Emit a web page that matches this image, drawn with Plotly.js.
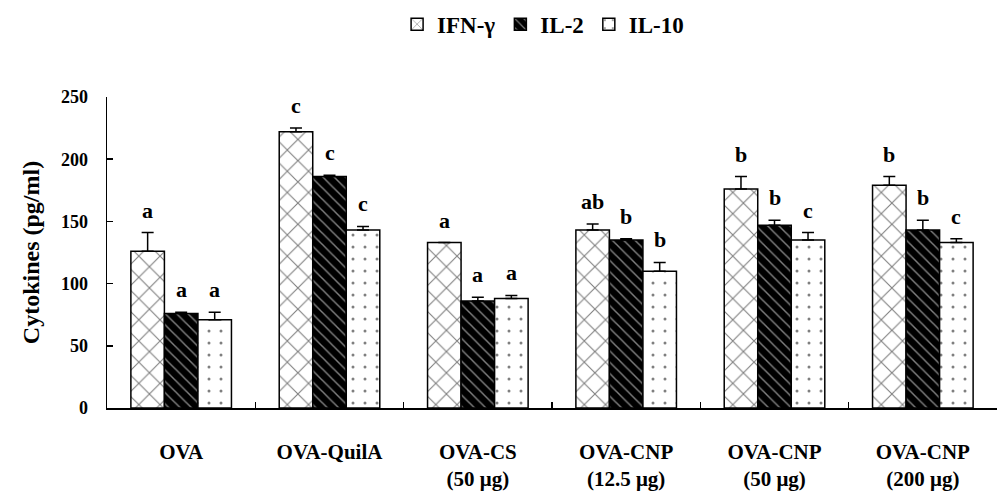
<!DOCTYPE html>
<html>
<head>
<meta charset="utf-8">
<script src="https://cdn.plot.ly/plotly-3.0.1.min.js"></script>
<style>
  html, body { margin: 0; padding: 0; background: #fff; }
  #plot { width: 1000px; height: 499px; }
</style>
</head>
<body>
<div id="plot"></div>
<script>
// Groups on the x axis
let groups = ["OVA", "OVA-QuilA", "OVA-CS<br>(50 μg)", "OVA-CNP<br>(12.5 μg)", "OVA-CNP<br>(50 μg)", "OVA-CNP<br>(200 μg)"];

// Cytokine means (pg/ml)
let ifnVals = [126, 222, 133, 143, 176, 179];
let il2Vals = [76, 186, 86, 135, 147, 143];
let il10Vals = [71, 143, 88, 110, 135, 133];

// Upper error bars
let ifnErr = [15, 3, 0, 5, 10, 7];
let il2Err = [1, 1, 3, 1, 4, 8];
let il10Err = [6, 3, 2.5, 7, 6, 3];

// Significance letters
let ifnLetters = ["a", "c", "a", "ab", "b", "b"];
let il2Letters = ["a", "c", "a", "b", "b", "b"];
let il10Letters = ["a", "c", "a", "b", "c", "c"];

let serif = "Liberation Serif, Times New Roman, serif";

function errBar(arr) {
    return {
        type: "data",
        array: arr,
        arrayminus: arr.map(() => 0),
        symmetric: false,
        color: "black",
        thickness: 1.5,
        width: 6
    };
}

let trace1 = {
    x: groups,
    y: ifnVals,
    name: "IFN-γ",
    type: "bar",
    error_y: errBar(ifnErr),
    marker: {
        color: "white",
        line: { color: "black", width: 1.5 },
        pattern: { shape: "x", fgcolor: "black", size: 15, solidity: 0.14, fillmode: "overlay" }
    }
};

let trace2 = {
    x: groups,
    y: il2Vals,
    name: "IL-2",
    type: "bar",
    error_y: errBar(il2Err),
    marker: {
        color: "black",
        line: { color: "black", width: 1.5 },
        pattern: { shape: "\\", fgcolor: "white", size: 8, solidity: 0.18, fillmode: "overlay" }
    }
};

let trace3 = {
    x: groups,
    y: il10Vals,
    name: "IL-10",
    type: "bar",
    error_y: errBar(il10Err),
    marker: {
        color: "white",
        line: { color: "black", width: 1.5 },
        pattern: { shape: ".", fgcolor: "black", size: 12, solidity: 0.05, fillmode: "overlay" }
    }
};

// Letters above each bar
let annotations = [];
let sets = [[ifnVals, ifnErr, ifnLetters, -0.226], [il2Vals, il2Err, il2Letters, 0], [il10Vals, il10Err, il10Letters, 0.226]];
sets.forEach(function (s) {
    for (let i = 0; i < groups.length; i++) {
        annotations.push({
            x: i + s[3],
            y: s[0][i] + s[1][i],
            xref: "x",
            yref: "y",
            text: s[2][i],
            showarrow: false,
            yanchor: "bottom",
            yshift: 8,
            font: { family: serif, size: 22, color: "black", weight: "bold" }
        });
    }
});

let layout = {
    width: 1000,
    height: 499,
    margin: { l: 107, r: 3, t: 92, b: 91 },
    paper_bgcolor: "white",
    plot_bgcolor: "white",
    barmode: "group",
    bargap: 0.322,
    bargroupgap: 0,
    font: { family: serif, color: "black" },
    showlegend: true,
    legend: {
        orientation: "h",
        x: 0.49,
        xanchor: "center",
        y: 1.234,
        yanchor: "middle",
        font: { family: serif, size: 23, color: "black", weight: "bold" },
        itemwidth: 30,
        tracegroupgap: 0
    },
    xaxis: {
        type: "category",
        showline: true,
        linecolor: "black",
        linewidth: 1.5,
        ticks: "inside",
        tickson: "boundaries",
        ticklen: 6,
        tickcolor: "black",
        tickwidth: 1.5,
        ticklabelstandoff: 24,
        tickfont: { family: serif, size: 21, color: "black", weight: "bold" },
        showgrid: false,
        zeroline: false
    },
    yaxis: {
        range: [0, 250],
        dtick: 50,
        showline: true,
        linecolor: "black",
        linewidth: 1.5,
        ticks: "inside",
        ticklen: 6,
        tickcolor: "black",
        tickwidth: 1.5,
        ticklabelstandoff: 14,
        tickfont: { family: serif, size: 18, color: "black", weight: "bold" },
        showgrid: false,
        zeroline: false,
        title: {
            text: "Cytokines (pg/ml)",
            font: { family: serif, size: 24, color: "black", weight: "bold" },
            standoff: 14
        }
    },
    annotations: annotations
};

Plotly.newPlot("plot", [trace1, trace2, trace3], layout, { displayModeBar: false, staticPlot: true });
</script>
</body>
</html>
